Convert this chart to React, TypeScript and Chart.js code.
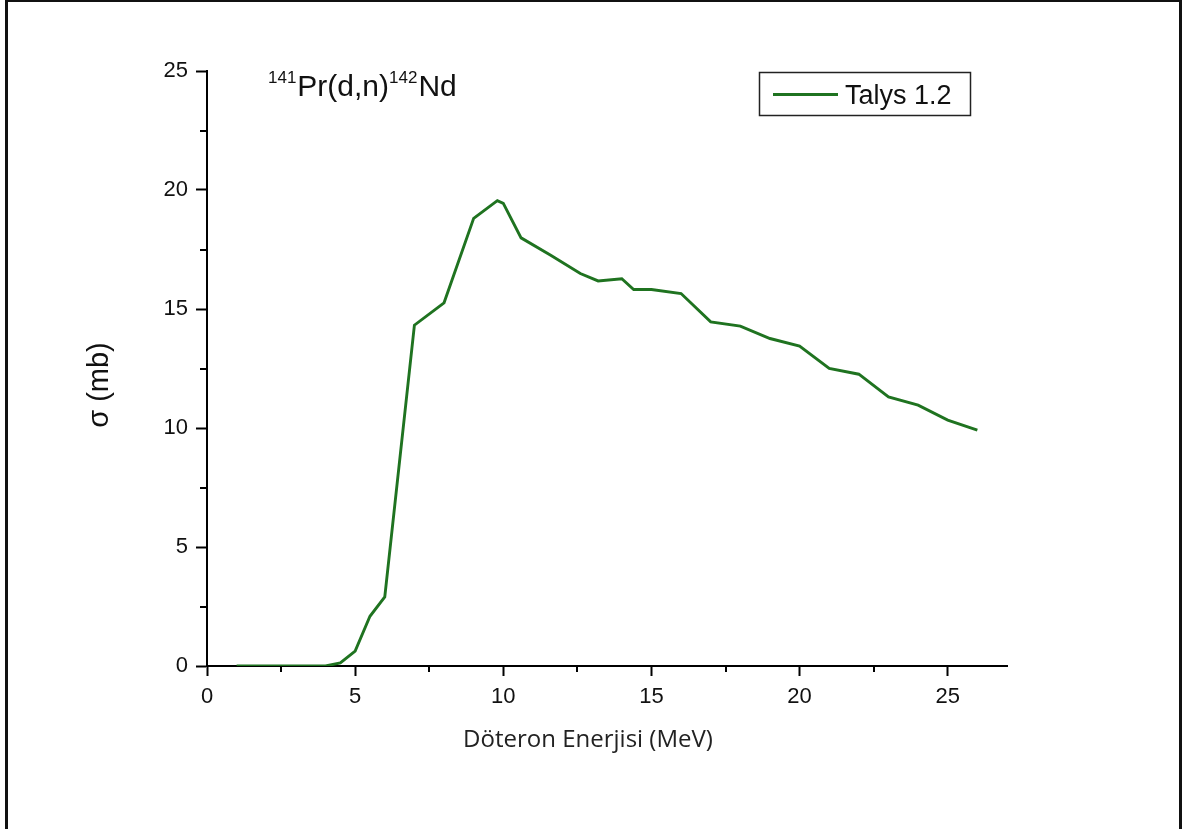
import React, { useEffect, useRef } from 'react';
import { Chart, registerables } from 'chart.js';

Chart.register(...registerables);

// Data
const energies = [1, 2, 3, 4, 4.5, 5, 5.5, 6, 7, 8, 9, 9.8, 10, 10.6, 11.6, 12.6, 13.2, 14, 14.4, 15, 16, 17, 18, 19, 20, 21, 22, 23, 24, 25, 26];
const sigma = [0, 0, 0, 0, 0.13, 0.63, 2.09, 2.9, 14.32, 15.26, 18.81, 19.55, 19.44, 17.99, 17.26, 16.49, 16.18, 16.27, 15.82, 15.82, 15.65, 14.46, 14.28, 13.76, 13.44, 12.5, 12.26, 11.31, 10.96, 10.33, 9.91];
const xMajorTicks = [0, 5, 10, 15, 20, 25];
const yMajorTicks = [0, 5, 10, 15, 20, 25];
const xMinorTicks = [2.5, 7.5, 12.5, 17.5, 22.5];
const yMinorTicks = [2.5, 7.5, 12.5, 17.5, 22.5];
const seriesLabel = 'Talys 1.2';
const xTitle = 'Döteron Enerjisi (MeV)';
const yTitle = 'σ (mb)';
const titleParts = [
  { text: '141', sup: true },
  { text: 'Pr(d,n)', sup: false },
  { text: '142', sup: true },
  { text: 'Nd', sup: false },
];

const LINE_COLOR = '#1f7320';
const SANS = '"Liberation Sans", Arial, sans-serif';

const decorPlugin = {
  id: 'decor',
  afterDraw(chart: any) {
    const ctx = chart.ctx as CanvasRenderingContext2D;
    const xs = chart.scales.x;
    const ys = chart.scales.y;
    ctx.save();

    // minor ticks
    ctx.strokeStyle = '#000';
    ctx.lineWidth = 2;
    const axisY = chart.chartArea.bottom;
    const axisX = chart.chartArea.left;
    xMinorTicks.forEach((v) => {
      const px = Math.round(xs.getPixelForValue(v));
      ctx.beginPath();
      ctx.moveTo(px, axisY);
      ctx.lineTo(px, axisY + 6);
      ctx.stroke();
    });
    yMinorTicks.forEach((v) => {
      const py = Math.round(ys.getPixelForValue(v));
      ctx.beginPath();
      ctx.moveTo(axisX, py);
      ctx.lineTo(axisX - 7, py);
      ctx.stroke();
    });

    // outer frame
    ctx.lineWidth = 3;
    ctx.strokeStyle = '#111';
    ctx.strokeRect(6.5, 0.5, 1174, 900);

    // chart title with superscripts
    ctx.fillStyle = '#111';
    ctx.textBaseline = 'alphabetic';
    ctx.textAlign = 'left';
    let tx = 268;
    titleParts.forEach((p) => {
      ctx.font = p.sup ? `17px ${SANS}` : `30px ${SANS}`;
      ctx.fillText(p.text, tx, p.sup ? 83 : 96);
      tx += ctx.measureText(p.text).width + (p.sup ? 1 : 0);
    });

    // legend
    ctx.lineWidth = 1.5;
    ctx.strokeStyle = '#222';
    ctx.strokeRect(759.5, 72.5, 211, 43);
    ctx.strokeStyle = LINE_COLOR;
    ctx.lineWidth = 2.8;
    ctx.beginPath();
    ctx.moveTo(773, 94.5);
    ctx.lineTo(838, 94.5);
    ctx.stroke();
    ctx.font = `27px ${SANS}`;
    ctx.fillStyle = '#111';
    ctx.fillText(seriesLabel, 845, 104);

    // x axis title
    ctx.font = `24px "Open Sans", "DejaVu Sans", sans-serif`;
    ctx.textAlign = 'center';
    ctx.fillStyle = '#222';
    ctx.fillText(xTitle, 588, 747);

    // y axis title
    ctx.save();
    ctx.translate(108, 385);
    ctx.rotate(-Math.PI / 2);
    ctx.font = `29px ${SANS}`;
    ctx.textAlign = 'center';
    ctx.textBaseline = 'alphabetic';
    ctx.fillStyle = '#111';
    ctx.fillText(yTitle, 0, 0);
    ctx.restore();

    ctx.restore();
  },
};

export default function App() {
  const canvasRef = useRef<HTMLCanvasElement | null>(null);

  useEffect(() => {
    if (!canvasRef.current) return;
    const chart = new Chart(canvasRef.current, {
      type: 'line',
      data: {
        datasets: [
          {
            label: seriesLabel,
            data: energies.map((e, i) => ({ x: e, y: sigma[i] })),
            borderColor: LINE_COLOR,
            borderWidth: 2.9,
            pointRadius: 0,
            tension: 0,
            fill: false,
          },
        ],
      },
      options: {
        animation: false,
        responsive: false,
        maintainAspectRatio: false,
        layout: { padding: { top: 71, right: 181, left: 0, bottom: 0 } },
        plugins: {
          legend: { display: false },
          tooltip: { enabled: false },
          title: { display: false },
        },
        scales: {
          x: {
            type: 'linear',
            min: 0,
            max: 27,
            afterBuildTicks: (scale: any) => {
              scale.ticks = xMajorTicks.map((v) => ({ value: v }));
            },
            afterFit: (scale: any) => {
              scale.height = 163;
            },
            grid: {
              drawOnChartArea: false,
              drawTicks: true,
              tickLength: 10,
              tickWidth: 2,
              tickColor: '#000',
            },
            border: { display: true, color: '#000', width: 2 },
            ticks: {
              color: '#111',
              padding: 8,
              maxRotation: 0,
              font: { family: SANS, size: 22 },
            },
          },
          y: {
            type: 'linear',
            min: 0,
            max: 25,
            afterBuildTicks: (scale: any) => {
              scale.ticks = yMajorTicks.map((v) => ({ value: v }));
            },
            afterFit: (scale: any) => {
              scale.width = 207;
            },
            grid: {
              drawOnChartArea: false,
              drawTicks: true,
              tickLength: 11,
              tickWidth: 2,
              tickColor: '#000',
            },
            border: { display: true, color: '#000', width: 2 },
            ticks: {
              color: '#111',
              padding: 8,
              font: { family: SANS, size: 22 },
            },
          },
        },
      },
      plugins: [decorPlugin],
    });
    return () => chart.destroy();
  }, []);

  return (
    <div style={{ position: 'fixed', left: 0, top: 0, width: 1188, height: 829, background: '#fff' }}>
      <canvas ref={canvasRef} width={1188} height={829} style={{ display: 'block' }} />
    </div>
  );
}
